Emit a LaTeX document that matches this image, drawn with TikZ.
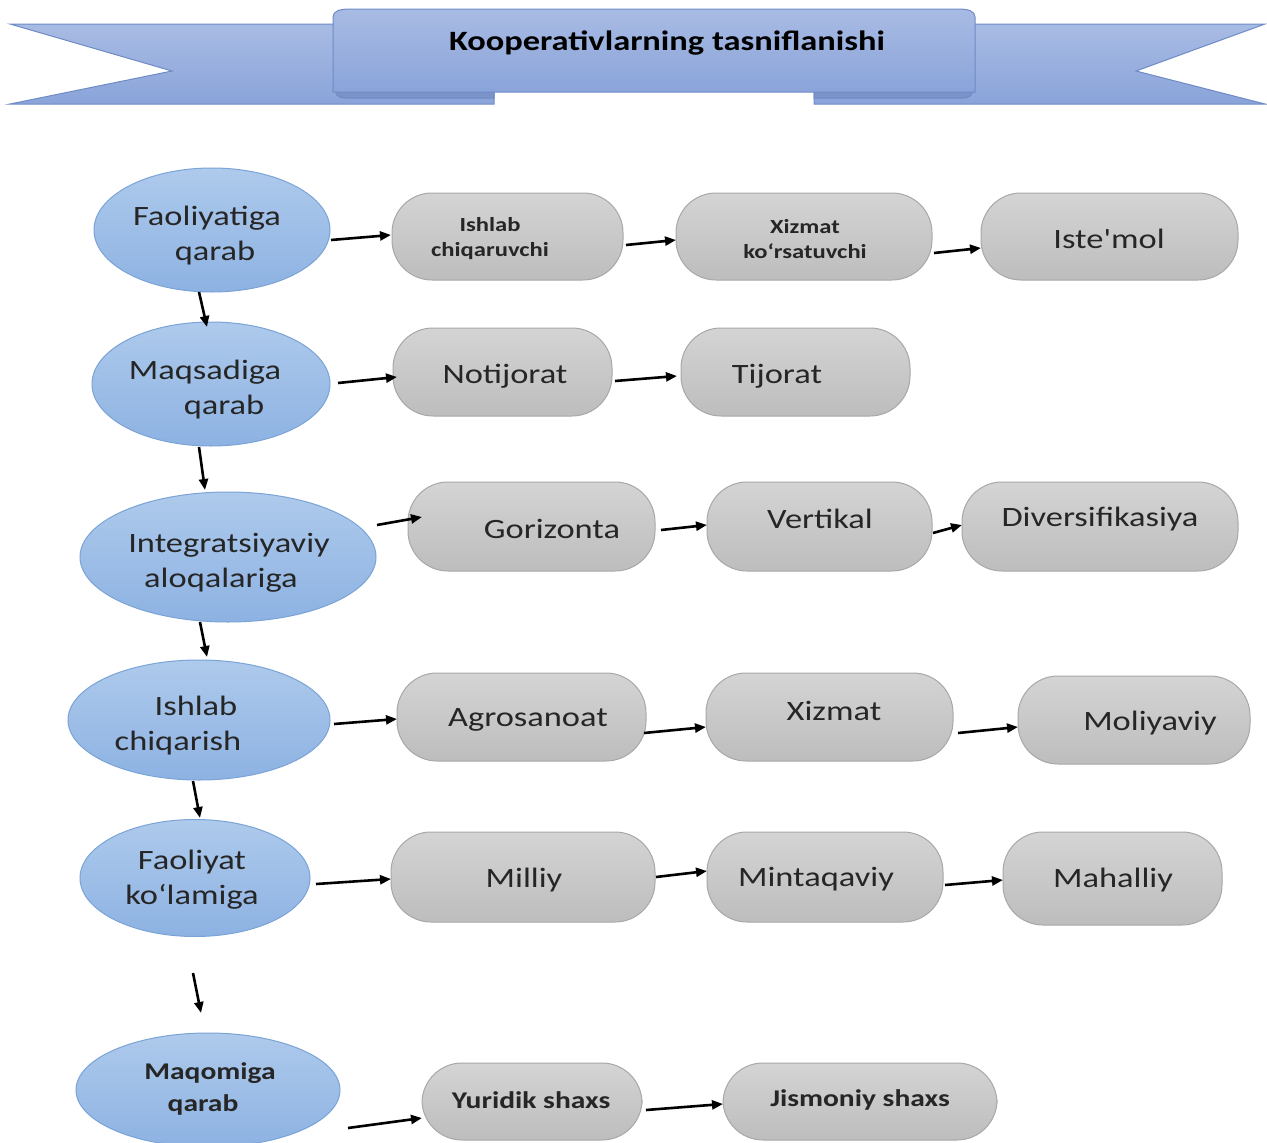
\documentclass[tikz,border=0pt]{standalone}
\usepackage{fontspec}
\setmainfont{Carlito}[FakeStretch=1.23,Ligatures=TeXOff]
\usetikzlibrary{shapes.geometric,arrows.meta,calc}
\definecolor{ellFa}{HTML}{AECAEC}
\definecolor{ellFb}{HTML}{8DB2E2}
\definecolor{ellD}{HTML}{7AA3D6}
\definecolor{boxFa}{HTML}{D4D4D4}
\definecolor{boxFb}{HTML}{BDBDBD}
\definecolor{boxD}{HTML}{A8A8A8}
\definecolor{banFa}{HTML}{A8BBE3}
\definecolor{banFb}{HTML}{8AA4DA}
\definecolor{banD}{HTML}{6F8BC6}
\definecolor{banK}{HTML}{7B93C9}
\begin{document}
\begin{tikzpicture}[x=1pt,y=-1pt,
  ell/.style={ellipse,draw=ellD,line width=1pt,top color=ellFa,bottom color=ellFb,inner sep=0pt},
  pill/.style={rectangle,rounded corners=40pt,draw=boxD,line width=1pt,top color=boxFa,bottom color=boxFb,inner sep=0pt},
  big/.style={font=\fontsize{28}{35}\selectfont,align=center,text=black!85},
  sml/.style={font=\bfseries\fontsize{20}{25}\selectfont,align=center,text=black!85},
  bbig/.style={font=\bfseries\fontsize{24}{32}\selectfont,align=center,text=black!85},
  arr/.style={-{Triangle[length=11pt,width=9pt]},line width=2.6pt,black},
  ban/.style={draw=banD,line width=1pt,top color=banFa,bottom color=banFb}]
\useasboundingbox (0,0) rectangle (1267,1143);
\fill[white] (0,0) rectangle (1267,1143);

% ---- banner ----
\path[ban] (10,24) -- (494,24) -- (494,104) -- (10,104) -- (172,71) -- cycle;
\path[ban] (1265,24) -- (814,24) -- (814,104) -- (1265,104) -- (1136,71) -- cycle;
\filldraw[fill=banK,draw=banD,line width=1pt] (494,87) -- (345,87) .. controls (333,87) and (333,98) .. (345,98) -- (494,98) -- cycle;
\filldraw[fill=banK,draw=banD,line width=1pt] (814,87) -- (963,87) .. controls (975,87) and (975,98) .. (963,98) -- (814,98) -- cycle;
\path[ban] (333,92) -- (333,17) .. controls (333,11) and (340,9) .. (350,9) -- (958,9) .. controls (968,9) and (975,11) .. (975,17) -- (975,92) -- cycle;
\node[font=\bfseries\fontsize{28}{32}\selectfont] (title) at (667,43) {Kooperativlarning tasniflanishi};

% ---- ellipses ----
\node[ell,minimum width=236pt,minimum height=124pt] (e1) at (212,230) {};
\node[ell,minimum width=238pt,minimum height=124pt] (e2) at (211,384) {};
\node[ell,minimum width=296pt,minimum height=130pt] (e3) at (228,557) {};
\node[ell,minimum width=262pt,minimum height=120pt] (e4) at (199,720) {};
\node[ell,minimum width=230pt,minimum height=117pt] (e5) at (195,878) {};
\node[ell,minimum width=264pt,minimum height=114pt] (e6) at (208,1090) {};

\node[big] (t1) at (207,236) {Faoliyatiga\\\hspace*{16pt}qarab};
\node[big] (t2) at (205,390) {Maqsadiga\\\hspace*{38pt}qarab};
\node[big] (t3) at (229,563) {Integratsiyaviy\\aloqalariga\hspace*{16pt}};
\node[big] (t4) at (178,726) {\hspace*{36pt}Ishlab\\chiqarish};
\node[big] (t5) at (192,880) {Faoliyat\\ko‘lamiga};
\node[bbig] (t6) at (210,1089) {Maqomiga\\qarab\hspace*{14pt}};

% ---- boxes ----
\node[pill,minimum width=231pt,minimum height=87pt] (b11) at (507.5,236.5) {};
\node[pill,minimum width=256pt,minimum height=87pt] (b12) at (804,236.5) {};
\node[pill,minimum width=257pt,minimum height=87pt] (b13) at (1109.5,236.5) {};
\node[pill,minimum width=219pt,minimum height=88pt] (b21) at (502.5,372) {};
\node[pill,minimum width=229pt,minimum height=88pt] (b22) at (795.5,372) {};
\node[pill,minimum width=247pt,minimum height=89pt] (b31) at (531.5,526.5) {};
\node[pill,minimum width=225pt,minimum height=89pt] (b32) at (819.5,526.5) {};
\node[pill,minimum width=276pt,minimum height=89pt] (b33) at (1100,526.5) {};
\node[pill,minimum width=249pt,minimum height=88pt] (b41) at (521.5,717) {};
\node[pill,minimum width=247pt,minimum height=88pt] (b42) at (829.5,717) {};
\node[pill,minimum width=232pt,minimum height=88pt] (b43) at (1134,720) {};
\node[pill,minimum width=264pt,minimum height=90pt] (b51) at (523,877) {};
\node[pill,minimum width=236pt,minimum height=90pt] (b52) at (825,877) {};
\node[pill,minimum width=219pt,minimum height=93pt] (b53) at (1112.5,878.5) {};
\node[pill,minimum width=220pt,minimum height=77pt] (b61) at (532,1101.5) {};
\node[pill,minimum width=274pt,minimum height=77pt] (b62) at (860,1101.5) {};

\node[sml] (l11) at (490,239) {Ishlab\\chiqaruvchi};
\node[sml] (l12) at (805,239) {Xizmat\\ko‘rsatuvchi};
\node[big] (l13) at (1109,239) {Iste'mol};
\node[big] (l21) at (505,376) {Notijorat};
\node[big] (l22) at (777,376) {Tijorat};
\node[big] (l31) at (552,529) {Gorizonta};
\node[big] (l32) at (820,519) {Vertikal};
\node[big] (l33) at (1100,519) {Diversifikasiya};
\node[big] (l41) at (528,720) {Agrosanoat};
\node[big] (l42) at (834,711) {Xizmat};
\node[big] (l43) at (1150,723) {Moliyaviy};
\node[big] (l51) at (524,880) {Milliy};
\node[big] (l52) at (816,879) {Mintaqaviy};
\node[big] (l53) at (1113,880) {Mahalliy};
\node[bbig] (l61) at (531,1100) {Yuridik shaxs};
\node[bbig] (l62) at (860,1100) {Jismoniy shaxs};

% ---- connector end points ----
\coordinate (a11s) at (331,240); \coordinate (a11e) at (391,235);
\coordinate (a12s) at (626,245); \coordinate (a12e) at (676,240);
\coordinate (a13s) at (934,253); \coordinate (a13e) at (981,248);
\coordinate (v1s) at (199,292); \coordinate (v1e) at (207,327);
\coordinate (v2s) at (199,447); \coordinate (v2e) at (205,490);
\coordinate (v3s) at (200,622); \coordinate (v3e) at (207,657);
\coordinate (v4s) at (193,781); \coordinate (v4e) at (200,818);
\coordinate (v5s) at (193,973); \coordinate (v5e) at (201,1013);
\coordinate (a21s) at (338,383); \coordinate (a21e) at (397,377);
\coordinate (a22s) at (615,381); \coordinate (a22e) at (677,376);
\coordinate (a31s) at (377,525); \coordinate (a31e) at (422,517);
\coordinate (a32s) at (661,530); \coordinate (a32e) at (707,525);
\coordinate (a33s) at (933,533); \coordinate (a33e) at (962,525);
\coordinate (a41s) at (334,724); \coordinate (a41e) at (397,719);
\coordinate (a42s) at (644,733); \coordinate (a42e) at (706,727);
\coordinate (a43s) at (958,733); \coordinate (a43e) at (1018,727);
\coordinate (a51s) at (316,884); \coordinate (a51e) at (391,879);
\coordinate (a52s) at (656,877); \coordinate (a52e) at (707,871);
\coordinate (a53s) at (945,885); \coordinate (a53e) at (1003,880);
\coordinate (a61s) at (348,1128); \coordinate (a61e) at (422,1118);
\coordinate (a62s) at (646,1110); \coordinate (a62e) at (723,1104);

\foreach \a in {a11,a12,a13,v1,v2,v3,v4,v5,a21,a22,a31,a32,a33,a41,a42,a43,a51,a52,a53,a61,a62}
  \draw[arr] (\a s) -- (\a e);
\end{tikzpicture}
\end{document}
